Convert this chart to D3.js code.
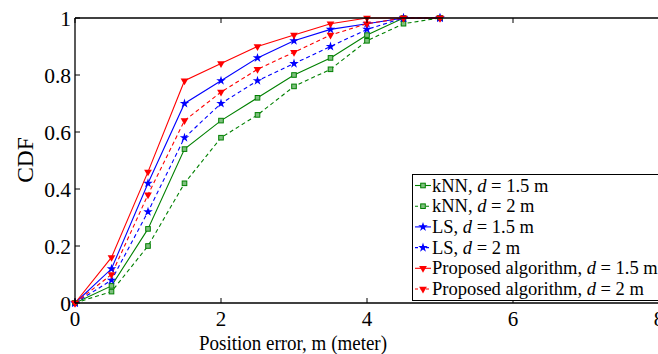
<!DOCTYPE html>
<html><head><meta charset="utf-8">
<script src="https://cdn.jsdelivr.net/npm/d3@7"></script>
<style>html,body{margin:0;padding:0;background:#fff;overflow:hidden}svg{display:block}</style>
</head><body><svg id="c" width="658" height="354" font-family="'Liberation Serif', serif"></svg>
<script>
const xValues = [0, 0.5, 1, 1.5, 2, 2.5, 3, 3.5, 4, 4.5, 5];
const knn15 = [0, 0.06, 0.26, 0.54, 0.64, 0.72, 0.80, 0.86, 0.94, 1, 1];
const knn2  = [0, 0.04, 0.20, 0.42, 0.58, 0.66, 0.76, 0.82, 0.92, 0.98, 1];
const ls15  = [0, 0.12, 0.42, 0.70, 0.78, 0.86, 0.92, 0.96, 0.98, 1, 1];
const ls2   = [0, 0.08, 0.32, 0.58, 0.70, 0.78, 0.84, 0.90, 0.96, 1, 1];
const prop15 = [0, 0.16, 0.46, 0.78, 0.84, 0.90, 0.94, 0.98, 1, 1, 1];
const prop2  = [0, 0.10, 0.38, 0.64, 0.74, 0.82, 0.88, 0.94, 0.98, 1, 1];
const xTicks = [0, 2, 4, 6, 8];
const yTicks = [0, 0.2, 0.4, 0.6, 0.8, 1];
const legendNames = ["kNN", "kNN", "LS", "LS", "Proposed algorithm", "Proposed algorithm"];
const legendD = ["1.5", "2", "1.5", "2", "1.5", "2"];

const series = [
  {name: legendNames[0], d: legendD[0], values: knn15, color: "#008000", dash: null, marker: "square"},
  {name: legendNames[1], d: legendD[1], values: knn2, color: "#008000", dash: "4,3", marker: "square"},
  {name: legendNames[2], d: legendD[2], values: ls15, color: "#0000ff", dash: null, marker: "star"},
  {name: legendNames[3], d: legendD[3], values: ls2, color: "#0000ff", dash: "4,3", marker: "star"},
  {name: legendNames[4], d: legendD[4], values: prop15, color: "#ff0000", dash: null, marker: "tri"},
  {name: legendNames[5], d: legendD[5], values: prop2, color: "#ff0000", dash: "4,3", marker: "tri"}
];

const FONT = "'Liberation Serif', 'Times New Roman', serif";
const svg = d3.select("#c");
svg.append("rect").attr("width", 658).attr("height", 354).attr("fill", "#fff");
const x = d3.scaleLinear().domain([0, 8]).range([75, 659]);
const y = d3.scaleLinear().domain([0, 1]).range([303, 18]);

function drawMarker(g, type, cx, cy, color) {
  if (type === "square") {
    g.append("rect").attr("x", cx - 2.3).attr("y", cy - 2.3).attr("width", 4.6).attr("height", 4.6)
      .attr("fill", "#7fbf7f").attr("stroke", color).attr("stroke-width", 1);
  } else if (type === "star") {
    g.append("path").attr("d", d3.symbol().type(d3.symbolStar).size(28)())
      .attr("transform", `translate(${cx},${cy})`).attr("fill", color);
  } else {
    g.append("path").attr("d", d3.symbol().type(d3.symbolTriangle).size(26)())
      .attr("transform", `translate(${cx},${cy}) rotate(180)`).attr("fill", color);
  }
}

// lines
const line = d3.line().x((d, i) => x(xValues[i])).y(d => y(d));
series.forEach(s => {
  svg.append("path").datum(s.values).attr("d", line).attr("fill", "none")
    .attr("stroke", s.color).attr("stroke-width", 1.1).attr("stroke-dasharray", s.dash);
});
series.forEach(s => {
  const g = svg.append("g");
  s.values.forEach((v, i) => drawMarker(g, s.marker, x(xValues[i]), y(v), s.color));
});

// axes box
const ax = svg.append("g");
ax.append("line").attr("x1", x(0)).attr("x2", x(8)).attr("y1", y(1)).attr("y2", y(1)).attr("stroke", "#000").attr("stroke-width", 1.3);
ax.append("line").attr("x1", x(0)).attr("x2", x(0)).attr("y1", y(0)).attr("y2", y(1)).attr("stroke", "#000").attr("stroke-width", 1.3);
ax.append("line").attr("x1", x(0)).attr("x2", x(8)).attr("y1", y(0)).attr("y2", y(0)).attr("stroke", "#000").attr("stroke-width", 1.3);

xTicks.forEach(t => {
  ax.append("line").attr("x1", x(t)).attr("x2", x(t)).attr("y1", y(0)).attr("y2", y(0) - 5).attr("stroke", "#000");
  ax.append("line").attr("x1", x(t)).attr("x2", x(t)).attr("y1", y(1)).attr("y2", y(1) + 5).attr("stroke", "#000");
  ax.append("text").attr("x", x(t)).attr("y", 326).attr("text-anchor", "middle")
    .attr("font-family", FONT).attr("font-size", 21).text(t);
});
yTicks.forEach(t => {
  ax.append("line").attr("x1", x(0)).attr("x2", x(0) + 5).attr("y1", y(t)).attr("y2", y(t)).attr("stroke", "#000");
  ax.append("text").attr("x", 71).attr("y", y(t) + 7.5).attr("text-anchor", "end")
    .attr("font-family", FONT).attr("font-size", 21.5).text(t);
});

// axis labels
svg.append("text").attr("x", 199).attr("y", 349.5)
  .attr("font-family", FONT).attr("font-size", 21)
  .attr("textLength", 188).attr("lengthAdjust", "spacingAndGlyphs")
  .text("Position error, m (meter)");
svg.append("text").attr("transform", "translate(33,160) rotate(-90)").attr("text-anchor", "middle")
  .attr("font-family", FONT).attr("font-size", 23.5).text("CDF");

// legend
const lg = svg.append("g");
lg.append("rect").attr("x", 412.5).attr("y", 174.5).attr("width", 260).attr("height", 126)
  .attr("fill", "#fff").attr("stroke", "#000").attr("stroke-width", 1);
series.forEach((s, i) => {
  const cy = 185.5 + i * 20.7;
  lg.append("line").attr("x1", 415).attr("x2", 431).attr("y1", cy).attr("y2", cy)
    .attr("stroke", s.color).attr("stroke-width", 1.1).attr("stroke-dasharray", s.dash ? "3,2.5" : null);
  drawMarker(lg, s.marker, 423, cy, s.color);
  const t = lg.append("text").attr("x", 432).attr("y", cy + 6)
    .attr("font-family", FONT).attr("font-size", 18.5);
  t.append("tspan").text(s.name + ", ");
  t.append("tspan").attr("font-style", "italic").text("d");
  t.append("tspan").text(" = " + s.d + " m");
});
</script></body></html>
